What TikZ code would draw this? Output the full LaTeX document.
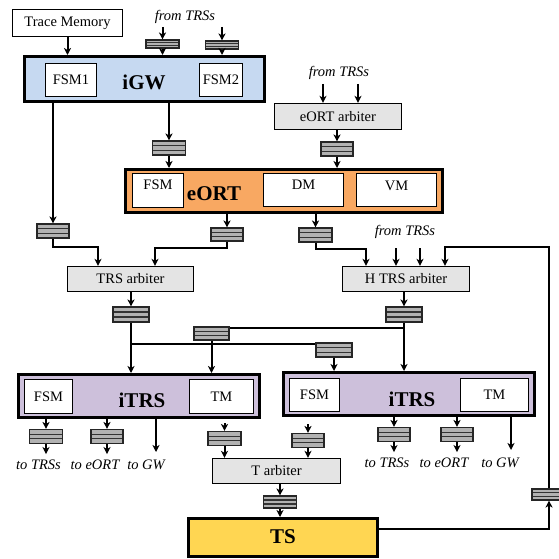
\documentclass[tikz,border=0pt]{standalone}
\usepackage{fontspec}
\setmainfont{Liberation Serif}
\usetikzlibrary{arrows.meta,calc}

\definecolor{gwblue}{RGB}{198,217,241}
\definecolor{ortorange}{RGB}{248,168,98}
\definecolor{trspurple}{RGB}{205,192,219}
\definecolor{tsyellow}{RGB}{255,214,82}
\definecolor{arbgray}{RGB}{228,228,228}
\definecolor{fifogray}{RGB}{178,178,178}

\tikzset{
  txt/.style={font=\fontsize{14.5}{16}\selectfont, inner sep=0pt},
  note/.style={font=\fontsize{14.5}{16}\selectfont\itshape, inner sep=0pt},
  biglabel/.style={font=\fontsize{21}{24}\selectfont\bfseries, inner sep=0pt},
  plainbox/.style={txt, draw=black, fill=white, line width=1.3pt},
  subbox/.style={txt, draw=black, fill=white, line width=1.3pt},
  arbbox/.style={txt, draw=black, fill=arbgray, line width=1.3pt},
  unitbox/.style={txt, draw=black, line width=3pt},
  fifo/.style={draw=black!85, fill=fifogray, line width=1.1pt, inner sep=0pt,
    minimum width=33pt, minimum height=14pt,
    path picture={
      \foreach \f in {0.34,0.66}
        \draw[black!80, line width=1.3pt]
          ($(path picture bounding box.south west)!\f!(path picture bounding box.north west)$) --
          ($(path picture bounding box.south east)!\f!(path picture bounding box.north east)$);
    }},
  thinfifo/.style={fifo, minimum height=8pt},
  wire/.style={draw=black, line width=2pt},
  arr/.style={wire, -{Stealth[length=7pt,width=7pt,inset=2pt]}},
}

\begin{document}
\begin{tikzpicture}[x=1pt,y=-1pt]
\useasboundingbox (0,0) rectangle (558,559);

% ---------------- iGW with its trace memory ----------------
\node[plainbox, minimum width=110pt, minimum height=27pt] (tm) at (67.5,23) {Trace Memory};
\node[unitbox, fill=gwblue, minimum width=240pt, minimum height=45pt] (igw) at (144.5,79) {};
\node[subbox, minimum width=51pt, minimum height=33pt] (fsm1) at (71,80) {FSM1};
\node[subbox, minimum width=43pt, minimum height=33pt] (fsm2) at (221,80) {FSM2};
\node[biglabel] (igwt) at (144,82) {iGW};
\node[note] (from1) at (185,17) {from TRSs};
\node[thinfifo] (g1) at (162.5,44) {};
\node[thinfifo] (g2) at (222,45) {};
\coordinate (from1a) at (162.5,27);
\coordinate (from1b) at (222,27);

\draw[arr] (tm.south) -- (tm.south |- igw.north);
\draw[arr] (from1a) -- (g1.north);
\draw[arr] (from1b) -- (g2.north);
\draw[arr] (g1.south) -- (g1.south |- igw.north);
\draw[arr] (g2.south) -- (g2.south |- igw.north);

% ---------------- eORT and its arbiter ----------------
\node[note] (from2) at (339,73) {from TRSs};
\node[arbbox, minimum width=127pt, minimum height=26pt] (earb) at (338,116.5) {eORT arbiter};
\coordinate (from2a) at (323,84);
\coordinate (from2b) at (358,84);
\draw[arr] (from2a) -- (from2a |- earb.north);
\draw[arr] (from2b) -- (from2b |- earb.north);

\node[fifo, minimum width=32pt] (e1) at (337,149) {};
\node[fifo] (i1) at (169,148) {};

\node[unitbox, fill=ortorange, minimum width=317pt, minimum height=43pt] (eort) at (284,191) {};
\node[subbox, minimum width=51pt, minimum height=34pt] (efsm) at (158,190.5) {};
\node[txt] (efsmt) at (158,185) {FSM};
\node[subbox, minimum width=80pt, minimum height=33pt] (dm) at (303.5,190) {};
\node[txt] (dmt) at (303.5,185) {DM};
\node[subbox, minimum width=80pt, minimum height=33pt] (vm) at (396.5,190) {};
\node[txt] (vmt) at (396.5,186) {VM};
\node[biglabel] (eortt) at (214,194) {eORT};

\draw[arr] (e1.north |- earb.south) -- (e1.north);
\draw[arr] (e1.south) -- (e1.south |- eort.north);
\draw[arr] (i1.north |- igw.south) -- (i1.north);
\draw[arr] (i1.south) -- (i1.south |- eort.north);

% ---------------- TRS arbiters ----------------
\node[fifo, minimum width=32pt] (fa) at (53,231) {};
\node[fifo, minimum width=32pt, minimum height=13pt] (fb) at (227,234.5) {};
\node[fifo] (fc) at (315.5,235) {};
\node[arbbox, minimum width=126pt, minimum height=25pt] (trsarb) at (130.5,279) {TRS arbiter};
\node[arbbox, minimum width=127pt, minimum height=25pt] (htrs) at (406,279) {H TRS arbiter};
\node[note] (from3) at (405,232) {from TRSs};
\coordinate (from3a) at (396,248);
\coordinate (from3b) at (420,248);

\draw[arr] (fa.north |- igw.south) -- (fa.north);
\draw[arr] (fb.north |- eort.south) -- (fb.north);
\draw[arr] (fc.north |- eort.south) -- (fc.north);
\draw[arr] (fa.south) -- ++(0,8) -| ([xshift=-32.5pt]trsarb.north);
\draw[arr] (fb.south) -- ++(0,6) -| ([xshift=24.5pt]trsarb.north);
\draw[arr] (fc.south) -- ++(0,6) -| ([xshift=-40pt]htrs.north);
\draw[arr] (from3a) -- (from3a |- htrs.north);
\draw[arr] (from3b) -- (from3b |- htrs.north);

% ---------------- distribution to the iTRS units ----------------
\node[fifo, minimum width=36pt, minimum height=15pt] (fd) at (131,314.5) {};
\node[fifo, minimum width=36pt, minimum height=15pt] (fe) at (404,314.5) {};
\node[fifo, minimum width=35pt, minimum height=13pt] (ff) at (211.5,333.5) {};
\node[fifo, minimum width=36pt] (fg) at (334,350) {};

\node[unitbox, fill=trspurple, minimum width=241pt, minimum height=43pt] (litrs) at (139,396) {};
\node[subbox, minimum width=48pt, minimum height=34pt] (lfsm) at (48.5,396.5) {FSM};
\node[subbox, minimum width=64pt, minimum height=34pt] (ltm) at (221.5,396.5) {TM};
\node[biglabel] (litrst) at (142,400) {iTRS};

\node[unitbox, fill=trspurple, minimum width=251pt, minimum height=43pt] (ritrs) at (409,394) {};
\node[subbox, minimum width=50pt, minimum height=33pt] (rfsm) at (314.5,395) {FSM};
\node[subbox, minimum width=68pt, minimum height=33pt] (rtm) at (494.5,395) {TM};
\node[biglabel] (ritrst) at (412,399) {iTRS};

\coordinate (j1) at (131,344);
\coordinate (j2) at (404,328);
\draw[arr] (fd.north |- trsarb.south) -- (fd.north);
\draw[arr] (fe.north |- htrs.south) -- (fe.north);
\draw[arr] (fd.south) -- (fd.south |- litrs.north);
\draw[arr] (fe.south) -- (fe.south |- ritrs.north);
\draw[wire] (j1) -- (j1 -| fg.west);
\draw[wire] (j2) -- (j2 -| ff.east);
\draw[arr] (ff.south) -- (ff.south |- litrs.north);
\draw[arr] (fg.south) -- (fg.south |- ritrs.north);

% ---------------- outputs of the left iTRS ----------------
\node[fifo] (l1) at (46,436.5) {};
\node[fifo, minimum width=32pt] (l2) at (107,436.5) {};
\node[fifo] (l4) at (224.5,438.5) {};
\coordinate (l3end) at (156,452);
\node[note] (l1t) at (38.5,465) {to TRSs};
\node[note] (l2t) at (95,465) {to eORT};
\node[note] (l3t) at (146,465) {to GW};

\draw[arr] (l1.north |- litrs.south) -- (l1.north);
\draw[arr] (l2.north |- litrs.south) -- (l2.north);
\draw[arr] (l1.south) -- ++(0,10);
\draw[arr] (l2.south) -- ++(0,10);
\draw[arr] (l3end |- litrs.south) -- (l3end);
\draw[arr] ($(l4.north |- litrs.south)+(0,4)$) -- (l4.north);

% ---------------- outputs of the right iTRS ----------------
\node[fifo, minimum width=32pt] (r1) at (394,434.5) {};
\node[fifo, minimum width=32pt] (r2) at (457,434.5) {};
\node[fifo, minimum width=32pt] (r4) at (308,440.5) {};
\coordinate (r3end) at (511,450);
\node[note] (r1t) at (387,463) {to TRSs};
\node[note] (r2t) at (444,463) {to eORT};
\node[note] (r3t) at (500,463) {to GW};

\draw[arr] (r1.north |- ritrs.south) -- (r1.north);
\draw[arr] (r2.north |- ritrs.south) -- (r2.north);
\draw[arr] (r1.south) -- ++(0,10);
\draw[arr] (r2.south) -- ++(0,10);
\draw[arr] (r3end |- ritrs.south) -- (r3end);
\draw[arr] ($(r4.north |- ritrs.south)+(0,7)$) -- (r4.north);

% ---------------- T arbiter and TS ----------------
\node[arbbox, minimum width=128pt, minimum height=25pt] (tarb) at (276.5,471) {T arbiter};
\node[fifo, minimum height=12pt] (ft) at (280,502) {};
\node[unitbox, fill=tsyellow, minimum width=189pt, minimum height=38pt] (ts) at (283,537.5) {};
\node[biglabel] (tst) at (283,537) {TS};

\draw[arr] (l4.south) -- (l4.south |- tarb.north);
\draw[arr] (r4.south) -- (r4.south |- tarb.north);
\draw[arr] (ft.north |- tarb.south) -- (ft.north);
\draw[arr] (ft.south) -- (ft.south |- ts.north);

% ---------------- feedback from TS to the H TRS arbiter ----------------
\node[fifo, minimum width=34pt, minimum height=11pt] (fh) at (549,494.5) {};
\coordinate (fbtop) at (549,247);
\draw[arr] ([yshift=8.5pt]ts.east) -| (fh.south);
\draw[arr] (fh.north) -- (fbtop) -| ([xshift=39pt]htrs.north);

\end{tikzpicture}
\end{document}
